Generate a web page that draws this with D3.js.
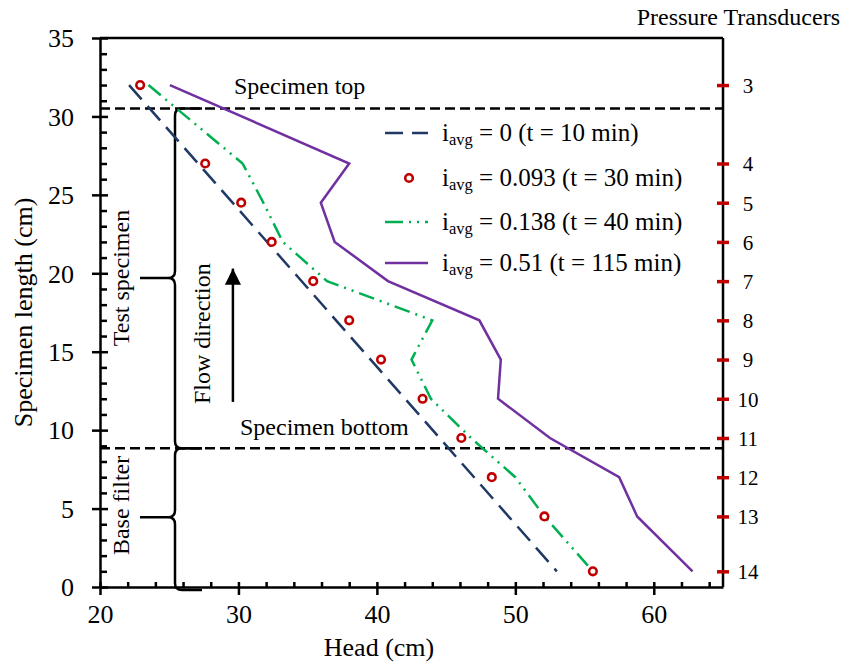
<!DOCTYPE html>
<html>
<head>
<meta charset="utf-8">
<script src="https://cdn.jsdelivr.net/npm/d3@7"></script>
<style>
  html, body { margin: 0; padding: 0; background: #fff; }
  svg { display: block; }
</style>
</head>
<body>
<script>
// Pressure transducer numbers and their height along the specimen (cm)
const transducers = [3, 4, 5, 6, 7, 8, 9, 10, 11, 12, 13, 14];
const transducerLength = [32, 27, 24.5, 22, 19.5, 17, 14.5, 12, 9.5, 7, 4.5, 1];

// Head readings (cm) for each stage of the test
const headStart = [22.1, 53.0];            // i_avg = 0, straight-line profile
const headStartLength = [32, 1];
const head30 = [22.9, 27.6, 30.2, 32.4, 35.4, 38.0, 40.3, 43.3, 46.1, 48.3, 52.1, 55.6];
const head40 = [23.5, 30.3, 31.8, 33.2, 36.4, 44.0, 42.5, 43.9, 46.8, 50.0, 52.1, 55.6];
const head115 = [25.05, 38.0, 35.95, 36.95, 40.8, 47.4, 48.95, 48.75, 52.5, 57.5, 58.8, 62.8];

// Legend entries
const legendValues = ["0", "0.093", "0.138", "0.51"];
const legendTimes = ["10", "30", "40", "115"];

// Axis ticks
const xMajor = [20, 30, 40, 50, 60];
const xMinor = d3.range(22, 65, 2).filter(v => v % 10 !== 0);
const yMajor = [0, 5, 10, 15, 20, 25, 30, 35];
const yMinor = d3.range(1, 35).filter(v => v % 5 !== 0);

// Specimen boundaries (cm)
const specimenTop = 30.5;
const specimenBottom = 8.85;

const FONT = '"Liberation Serif", "DejaVu Serif", Tinos, "Times New Roman", Times, "Nimbus Roman", "Nimbus Roman No9 L", FreeSerif, "Noto Serif", serif';

const W = 842, H = 666;
const svg = d3.select("body").append("svg").attr("width", W).attr("height", H)
  .style("font-family", FONT);

const x = d3.scaleLinear().domain([20, 65]).range([100, 723]);
const y = d3.scaleLinear().domain([0, 35]).range([587, 38]);

const AXW = 2.5;

// Frame: top and right edges
svg.append("line").attr("x1", x(20)).attr("x2", x(65)).attr("y1", y(35)).attr("y2", y(35))
  .attr("stroke", "#000").attr("stroke-width", AXW);
svg.append("line").attr("x1", x(65)).attr("x2", x(65)).attr("y1", y(35)).attr("y2", y(0))
  .attr("stroke", "#000").attr("stroke-width", AXW);

// Y axis: major ticks crossing, minor ticks inside
const gy = svg.append("g").attr("transform", `translate(${x(20)},0)`)
  .call(d3.axisLeft(y).tickValues(yMajor).tickSize(8).tickSizeOuter(0).tickPadding(18));
gy.select(".domain").attr("stroke-width", AXW);
gy.selectAll(".tick line").attr("x1", 8).attr("stroke-width", AXW);
gy.selectAll(".tick text").attr("font-size", 26).attr("dy", "0.34em");
const gyMinor = svg.append("g").attr("transform", `translate(${x(20)},0)`)
  .call(d3.axisRight(y).tickValues(yMinor).tickSize(7).tickFormat(""));
gyMinor.select(".domain").remove();
gyMinor.selectAll(".tick line").attr("stroke-width", AXW);

// X axis
const gx = svg.append("g").attr("transform", `translate(0,${y(0)})`)
  .call(d3.axisBottom(x).tickValues(xMajor).tickSize(8).tickSizeOuter(0).tickPadding(10));
gx.select(".domain").attr("stroke-width", AXW);
gx.selectAll(".tick line").attr("y1", -5).attr("stroke-width", AXW);
gx.selectAll(".tick text").attr("font-size", 26).attr("dy", "0.71em");
const gxMinor = svg.append("g").attr("transform", `translate(0,${y(0)})`)
  .call(d3.axisTop(x).tickValues(xMinor).tickSize(5).tickFormat(""));
gxMinor.select(".domain").remove();
gxMinor.selectAll(".tick line").attr("stroke-width", AXW);

// Right axis: transducer positions
const gr = svg.append("g").attr("transform", `translate(${x(65)},0)`)
  .call(d3.axisRight(y).tickValues(transducerLength).tickSize(6).tickSizeOuter(0)
    .tickFormat((d, i) => transducers[i]));
gr.select(".domain").remove();
gr.selectAll(".tick line").attr("x1", -6).attr("stroke", "#c00000").attr("stroke-width", 3.5);
gr.selectAll(".tick text").attr("font-size", 21).attr("x", 25).attr("text-anchor", "middle")
  .attr("dy", "0.35em");

// Axis generators set their own font-family; use the serif face throughout
svg.selectAll("g").attr("font-family", FONT);

svg.append("text").attr("x", 840).attr("y", 25).attr("text-anchor", "end")
  .attr("font-size", 24).text("Pressure Transducers");

// Axis titles
svg.append("text").attr("transform", `translate(32,${(y(0) + y(35)) / 2}) rotate(-90)`)
  .attr("text-anchor", "middle").attr("font-size", 26).text("Specimen length (cm)");
svg.append("text").attr("x", 379).attr("y", 656).attr("text-anchor", "middle")
  .attr("font-size", 26).text("Head (cm)");

// Specimen boundary lines
[specimenTop, specimenBottom].forEach(v => {
  svg.append("line").attr("x1", x(20)).attr("x2", x(65)).attr("y1", y(v)).attr("y2", y(v))
    .attr("stroke", "#000").attr("stroke-width", 2.5).attr("stroke-dasharray", "10,5");
});
svg.append("text").attr("x", 234).attr("y", 94).attr("font-size", 24).text("Specimen top");
svg.append("text").attr("x", 240).attr("y", 435).attr("font-size", 24).text("Specimen bottom");

// Curly braces marking the specimen and the base filter
function brace(yTop, yBot, yMid) {
  const xv = 175, xTip = 140, xEnd = 202, r = 7;
  return `M${xEnd},${yTop} L${xv + r},${yTop} Q${xv},${yTop} ${xv},${yTop + r}` +
    ` L${xv},${yMid - r} Q${xv},${yMid} ${xv - r},${yMid} L${xTip},${yMid}` +
    ` M${xTip},${yMid} L${xv - r},${yMid} Q${xv},${yMid} ${xv},${yMid + r}` +
    ` L${xv},${yBot - r} Q${xv},${yBot} ${xv + r},${yBot} L${xEnd},${yBot}`;
}
svg.append("path").attr("d", brace(y(specimenTop), y(specimenBottom), y(19.7)))
  .attr("fill", "none").attr("stroke", "#000").attr("stroke-width", 2.5);
svg.append("path").attr("d", brace(y(specimenBottom), y(0) + 3, y(4.45)))
  .attr("fill", "none").attr("stroke", "#000").attr("stroke-width", 2.5);

svg.append("text").attr("transform", `translate(129,${y(19.7)}) rotate(-90)`)
  .attr("text-anchor", "middle").attr("font-size", 24).text("Test specimen");
svg.append("text").attr("transform", `translate(129,${y(5.2)}) rotate(-90)`)
  .attr("text-anchor", "middle").attr("font-size", 24).text("Base filter");
svg.append("text").attr("transform", `translate(210,${y(16.15)}) rotate(-90)`)
  .attr("text-anchor", "middle").attr("font-size", 24).text("Flow direction");

// Flow arrow
svg.append("defs").append("marker").attr("id", "arrowhead")
  .attr("viewBox", "0 0 10 10").attr("refX", 10).attr("refY", 5)
  .attr("markerWidth", 6.5).attr("markerHeight", 6.5).attr("markerUnits", "strokeWidth")
  .attr("orient", "auto")
  .append("path").attr("d", "M0,0 L10,5 L0,10 Z").attr("fill", "#000");
svg.append("line").attr("x1", x(29.6)).attr("x2", x(29.6)).attr("y1", y(11.8)).attr("y2", y(20.3))
  .attr("stroke", "#000").attr("stroke-width", 2.5).attr("marker-end", "url(#arrowhead)");

// Series
const line = d3.line().x(d => x(d[0])).y(d => y(d[1]));
const blue = "#1f3864", green = "#00b050", purple = "#7030a0", red = "#c00000";

svg.append("path").datum(headStart.map((h, i) => [h, headStartLength[i]]))
  .attr("d", line).attr("fill", "none").attr("stroke", blue).attr("stroke-width", 2.5)
  .attr("stroke-dasharray", "19,9");
svg.append("path").datum(head40.map((h, i) => [h, transducerLength[i]]))
  .attr("d", line).attr("fill", "none").attr("stroke", green).attr("stroke-width", 2.5)
  .attr("stroke-dasharray", "16,6,2,6,2,6");
svg.append("path").datum(head115.map((h, i) => [h, transducerLength[i]]))
  .attr("d", line).attr("fill", "none").attr("stroke", purple).attr("stroke-width", 2.5);
svg.append("g").selectAll("circle").data(head30).join("circle")
  .attr("cx", d => x(d)).attr("cy", (d, i) => y(transducerLength[i])).attr("r", 3.8)
  .attr("fill", "#fff").attr("stroke", red).attr("stroke-width", 2.6);

// Legend
const legendY = [133, 178, 222, 263];
const lg = svg.append("g").attr("font-family", FONT);
lg.append("line").attr("x1", 385).attr("x2", 428).attr("y1", legendY[0]).attr("y2", legendY[0])
  .attr("stroke", blue).attr("stroke-width", 2.5).attr("stroke-dasharray", "18,9");
lg.append("circle").attr("cx", 409).attr("cy", legendY[1]).attr("r", 3.8)
  .attr("fill", "#fff").attr("stroke", red).attr("stroke-width", 2.6);
lg.append("line").attr("x1", 385).attr("x2", 428).attr("y1", legendY[2]).attr("y2", legendY[2])
  .attr("stroke", green).attr("stroke-width", 2.5).attr("stroke-dasharray", "18,6,2,6,2,6");
lg.append("line").attr("x1", 385).attr("x2", 428).attr("y1", legendY[3]).attr("y2", legendY[3])
  .attr("stroke", purple).attr("stroke-width", 2.5);
legendValues.forEach((v, i) => {
  const t = lg.append("text").attr("x", 442).attr("y", legendY[i] + 8).attr("font-size", 25);
  t.append("tspan").text("i");
  t.append("tspan").attr("font-size", 16.5).attr("dy", 4).text("avg");
  t.append("tspan").attr("dy", -4).text(` = ${v} (t = ${legendTimes[i]} min)`);
});
</script>
</body>
</html>
